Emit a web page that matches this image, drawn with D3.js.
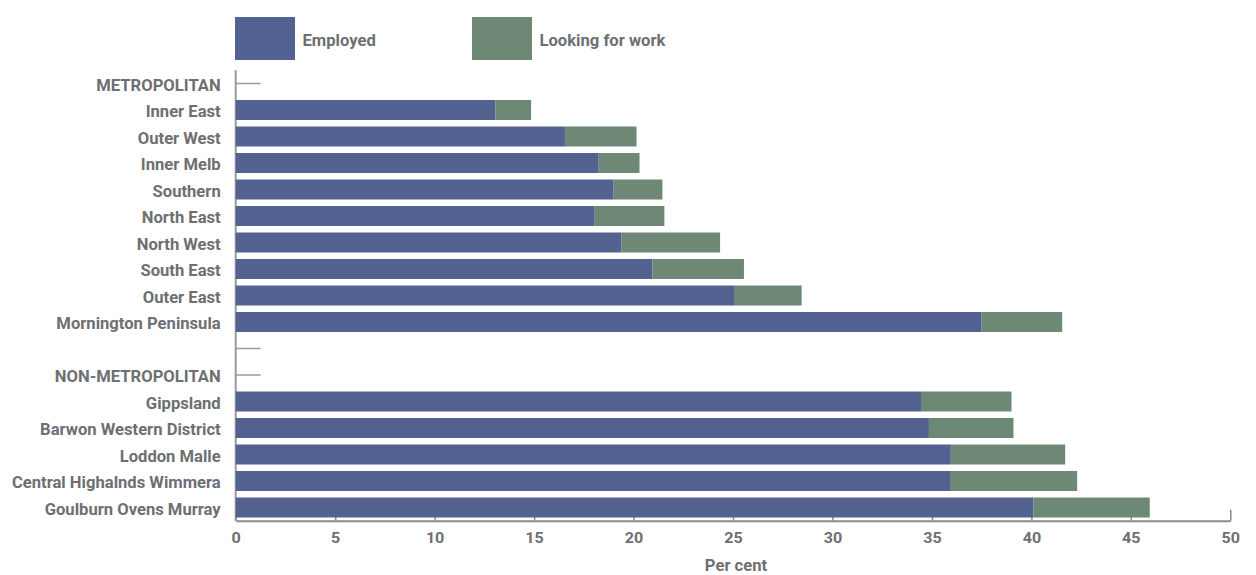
<!DOCTYPE html>
<html>
<head>
<meta charset="utf-8">
<script src="https://cdn.jsdelivr.net/npm/d3@7"></script>
<style>
  html, body { margin: 0; padding: 0; background: #fff; }
  svg text { font-family: Roboto, "Noto Sans", sans-serif; font-weight: bold; fill: #6e6f72; }
</style>
</head>
<body>
<svg id="chart" width="1256" height="575"></svg>
<script>
// Rows from top to bottom; empty strings / headings carry no bars
const categories = [
  "METROPOLITAN", "Inner East", "Outer West", "Inner Melb", "Southern",
  "North East", "North West", "South East", "Outer East", "Mornington Peninsula",
  "", "NON-METROPOLITAN", "Gippsland", "Barwon Western District", "Loddon Malle",
  "Central Highalnds Wimmera", "Goulburn Ovens Murray"
];
const employed = [
  null, 13.05, 16.55, 18.25, 19.0, 18.05, 19.4, 20.95, 25.05, 37.5,
  null, null, 34.45, 34.85, 35.95, 35.95, 40.1
];
const lookingForWork = [
  null, 1.8, 3.6, 2.05, 2.45, 3.5, 4.95, 4.6, 3.4, 4.05,
  null, null, 4.55, 4.25, 5.75, 6.35, 5.85
];
const xTicks = [0, 5, 10, 15, 20, 25, 30, 35, 40, 45, 50];
const seriesNames = ["Employed", "Looking for work"];
const colors = ["#536291", "#6d8875"];

const svg = d3.select("#chart");
const plotLeft = 235.7, plotRight = 1230.3, plotTop = 70.25, plotBottom = 520.75;

// Narrow the lettering horizontally about each text's anchor point
const probe = svg.append("text").attr("font-size", 16).text("Central Highalnds Wimmera");
const squeeze = 209 / probe.node().getComputedTextLength();
probe.remove();
function condense(sel) {
  sel.each(function () {
    const ax = +d3.select(this).attr("x") || 0;
    d3.select(this).attr("transform", `translate(${ax},0) scale(${squeeze},1) translate(${-ax},0)`);
  });
}

const x = d3.scaleLinear().domain([0, 50]).range([plotLeft, plotRight]);
const y = d3.scaleBand()
  .domain(d3.range(categories.length))
  .range([plotTop, plotBottom])
  .paddingInner(0.245)
  .paddingOuter(0.1225);

// Legend
const legend = svg.append("g");
[[235, 302.5], [472, 539.5]].forEach(([rx, tx], i) => {
  legend.append("rect").attr("x", rx).attr("y", 17).attr("width", 60).attr("height", 43).attr("fill", colors[i]);
  legend.append("text").attr("x", tx).attr("y", 46).attr("font-size", 16).text(seriesNames[i]).call(condense);
});

// Y axis: ticks point inward and sit behind the bars
const yAxis = svg.append("g")
  .attr("transform", `translate(${plotLeft},0)`)
  .call(d3.axisLeft(y).tickSize(-25).tickPadding(15).tickSizeOuter(0).tickFormat(i => categories[i]));
yAxis.select(".domain").attr("stroke", "#9a9a9a").attr("stroke-width", 2).attr("d", `M0,${plotTop}V${plotBottom}`);
yAxis.selectAll(".tick line").attr("stroke", "#9a9a9a").attr("stroke-width", 1.5);
yAxis.selectAll(".tick text").attr("font-size", 16).attr("fill", "#6e6f72").attr("dy", "0.45em").call(condense);

// X axis
const xAxis = svg.append("g")
  .attr("transform", `translate(0,${plotBottom})`)
  .call(d3.axisBottom(x).tickValues(xTicks).tickSize(-4).tickSizeOuter(0).tickPadding(11.5));
xAxis.select(".domain").attr("stroke", "#8a8a8a").attr("stroke-width", 2);
xAxis.selectAll(".tick line").attr("stroke", "#8a8a8a").attr("stroke-width", 1.5)
  .attr("y2", d => d === 50 ? -11 : -4);
xAxis.selectAll(".tick text").attr("font-size", 15.5).attr("fill", "#6e6f72").call(condense);

svg.append("text")
  .attr("x", (plotLeft + plotRight) / 2 + 3).attr("y", 571)
  .attr("text-anchor", "middle").attr("font-size", 16)
  .text("Per cent").call(condense);

// Stacked bars
const rows = categories.map((c, i) => ({ i, e: employed[i], l: lookingForWork[i] }))
  .filter(d => d.e != null);
const bars = svg.append("g");
bars.selectAll("rect.emp").data(rows).join("rect")
  .attr("class", "emp")
  .attr("x", x(0)).attr("y", d => y(d.i))
  .attr("width", d => x(d.e) - x(0)).attr("height", y.bandwidth())
  .attr("fill", colors[0]);
bars.selectAll("rect.look").data(rows).join("rect")
  .attr("class", "look")
  .attr("x", d => x(d.e)).attr("y", d => y(d.i))
  .attr("width", d => x(d.e + d.l) - x(d.e)).attr("height", y.bandwidth())
  .attr("fill", colors[1]);
</script>
</body>
</html>
